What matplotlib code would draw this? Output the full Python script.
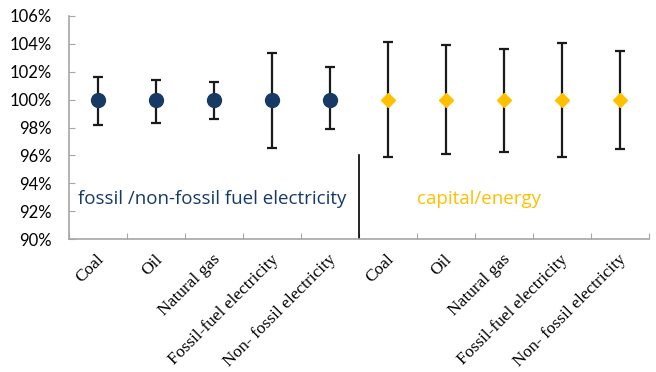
import numpy as np
import matplotlib.pyplot as plt

# categories (two groups of five)
labels = ["Coal", "Oil", "Natural gas", "Fossil-fuel electricity", "Non- fossil electricity",
          "Coal", "Oil", "Natural gas", "Fossil-fuel electricity", "Non- fossil electricity"]

# central values and error bar ends, in %
fossil_mid = [100, 100, 100, 100, 100]
fossil_hi = [101.6, 101.43, 101.29, 103.35, 102.34]
fossil_lo = [98.16, 98.32, 98.59, 96.55, 97.87]

capital_mid = [100, 100, 100, 100, 100]
capital_hi = [104.13, 103.92, 103.65, 104.04, 103.49]
capital_lo = [95.86, 96.08, 96.24, 95.91, 96.44]

yticks = [90, 92, 94, 96, 98, 100, 102, 104, 106]

navy = "#173A64"
gold = "#FFC000"
grey = "#A6A6A6"

fig = plt.figure(figsize=(6.56, 3.72), dpi=100)
ax = fig.add_axes([0.105, 0.3575, 0.884, 0.5995])

x1 = np.arange(1, 6)
x2 = np.arange(6, 11)

m1 = np.array(fossil_mid)
m2 = np.array(capital_mid)
err1 = [m1 - np.array(fossil_lo), np.array(fossil_hi) - m1]
err2 = [m2 - np.array(capital_lo), np.array(capital_hi) - m2]

ax.errorbar(x1, m1, yerr=err1, fmt="o", color=navy, markersize=10,
            ecolor="#1a1a1a", elinewidth=1.6, capsize=3.8, capthick=1.6, zorder=3)
ax.errorbar(x2, m2, yerr=err2, fmt="D", color=gold, markersize=7,
            ecolor="#1a1a1a", elinewidth=1.6, capsize=3.8, capthick=1.6, zorder=3)

# separator between the two groups
ax.plot([5.5, 5.5], [90, 96.05], color="black", linewidth=1.2)

ax.text(0.65, 92.9, "fossil /non-fossil fuel electricity", color=navy,
        fontsize=13.5, family="Open Sans", va="center", ha="left")
ax.text(6.5, 92.9, "capital/energy", color=gold,
        fontsize=13.5, family="Open Sans", va="center", ha="left")

ax.set_xlim(0.5, 10.5)
ax.set_ylim(90, 106)
ax.set_yticks(yticks)
ax.set_yticklabels([f"{v}%" for v in yticks], family="Lato", fontsize=12)

# tick marks on category boundaries, names under each category
ax.set_xticks(np.arange(0.5, 11, 1))
ax.set_xticklabels([])
ax.set_xticks(np.arange(1, 11) - 0.03, minor=True)
ax.set_xticklabels(labels, minor=True, rotation=45, ha="right", va="top",
                   rotation_mode="anchor", family="Liberation Serif", fontsize=12.5)
ax.tick_params(axis="x", which="minor", length=0, pad=9)
ax.tick_params(axis="x", which="major", direction="in", length=4, color=grey)
ax.tick_params(axis="y", direction="in", length=4, color=grey, pad=12)

for s in ["top", "right"]:
    ax.spines[s].set_visible(False)
for s in ["left", "bottom"]:
    ax.spines[s].set_color(grey)
    ax.spines[s].set_linewidth(1.2)

fig.savefig("out.png", dpi=100)
